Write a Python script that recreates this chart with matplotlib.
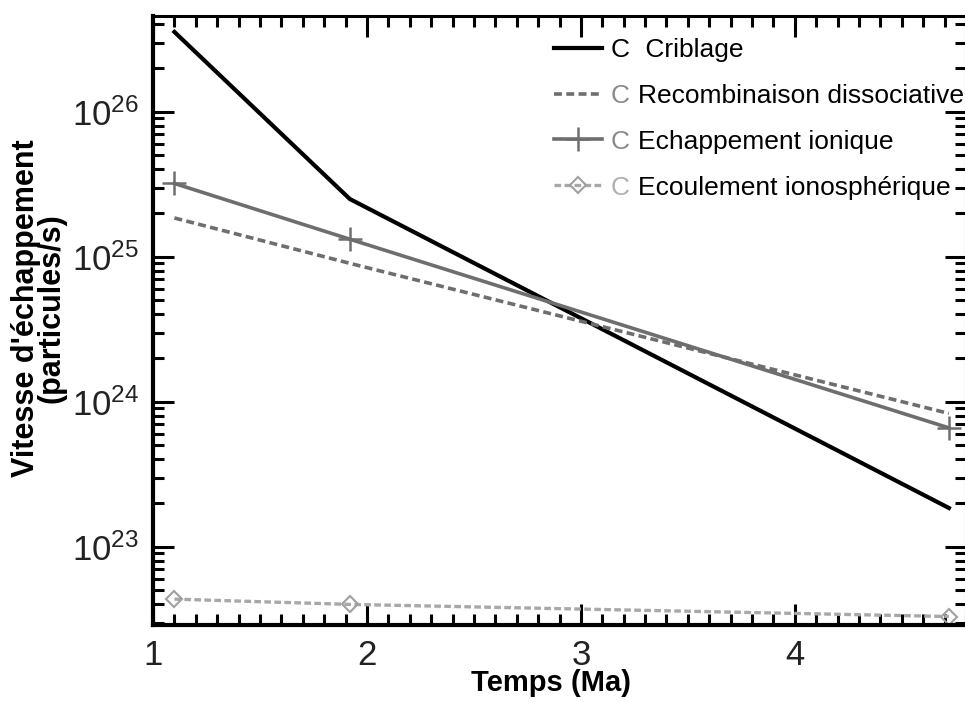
import matplotlib
matplotlib.use("Agg")
import matplotlib.pyplot as plt
from matplotlib.ticker import MultipleLocator, LogLocator, NullFormatter, FixedLocator
import numpy as np

plt.rcParams['font.family'] = ['Liberation Sans', 'DejaVu Sans']
plt.rcParams['mathtext.fontset'] = 'custom'
plt.rcParams['mathtext.rm'] = 'Liberation Sans'

# Time (Ma)
temps = [1.10, 1.92, 4.72]

# Escape rates (particles/s)
criblage = [3.55e26, 2.5e25, 1.85e23]
recombinaison = [1.85e25, 9.0e24, 8.3e23]
echappement = [3.2e25, 1.32e25, 6.6e23]
ecoulement = [4.35e22, 4.0e22, 3.3e22]

labels = [" Criblage", "Recombinaison dissociative",
          "Echappement ionique", "Ecoulement ionosphérique"]
prefix_colors = ['black', '#8a8a8a', '#8a8a8a', '#b0b0b0']

fig = plt.figure(figsize=(9.65, 7.02), dpi=100)
ax = fig.add_axes([153 / 965, 1 - 625 / 702, 813 / 965, (625 - 16) / 702])

ax.plot(temps, criblage, color='black', lw=3.0, label=labels[0])
ax.plot(temps, recombinaison, color='#6e6e6e', lw=2.6, ls=(0, (2.2, 1.2)),
        label=labels[1])
ax.plot(temps, echappement, color='#6e6e6e', lw=2.6, marker='+', ms=17,
        mew=1.8, label=labels[2])
ax.plot(temps, ecoulement, color='#a8a8a8', lw=2.4, ls=(0, (2.0, 1.0)),
        marker='D', ms=8, mfc='none', mec='#a0a0a0', mew=1.5, label=labels[3])

ax.set_yscale('log')
ax.set_xlim(1, 4.8)
ax.set_ylim(10 ** 22.46, 10 ** 26.66)

ax.xaxis.set_major_locator(FixedLocator([1, 2, 3, 4]))
ax.xaxis.set_minor_locator(MultipleLocator(0.1))
ax.yaxis.set_major_locator(LogLocator(base=10, numticks=10))
ax.yaxis.set_minor_locator(LogLocator(base=10, subs=np.arange(2, 10), numticks=20))
ax.yaxis.set_minor_formatter(NullFormatter())

ax.tick_params(which='both', direction='in', top=True, right=True,
               labelsize=25, width=2.2, colors='black')
ax.tick_params(which='major', length=15, pad=10)
ax.tick_params(which='minor', length=8)
for lab in ax.get_xticklabels() + ax.get_yticklabels():
    lab.set_color('#222222')

for side in ['left', 'bottom']:
    ax.spines[side].set_linewidth(3.0)
for side in ['top', 'right']:
    ax.spines[side].set_linewidth(2.2)

ax.set_xlabel("Temps (Ma)", fontsize=21, fontweight='bold')
ax.set_ylabel("Vitesse d'échappement\n(particules/s)", fontsize=22,
              fontweight='bold', linespacing=0.8)
ax.xaxis.set_label_coords(0.49, -0.072)
ax.yaxis.set_label_coords(-0.106, 0.52)

leg = ax.legend(loc='upper right', bbox_to_anchor=(1.017, 0.99), frameon=False,
                fontsize=19, handlelength=1.85, handletextpad=1.35,
                labelspacing=0.83, borderaxespad=0.2)

# "C" markers in front of each legend entry, aligned in one column
fig.canvas.draw()
renderer = fig.canvas.get_renderer()
inv = fig.transFigure.inverted()
col_x = leg.get_texts()[1].get_window_extent(renderer).x0 - 8
for txt, col in zip(leg.get_texts(), prefix_colors):
    bb = txt.get_window_extent(renderer)
    x, y = inv.transform((col_x, (bb.y0 + bb.y1) / 2))
    fig.text(x, y, "C", fontsize=19, color=col, ha='right', va='center')

fig.savefig("out.png", dpi=100, facecolor='white')
